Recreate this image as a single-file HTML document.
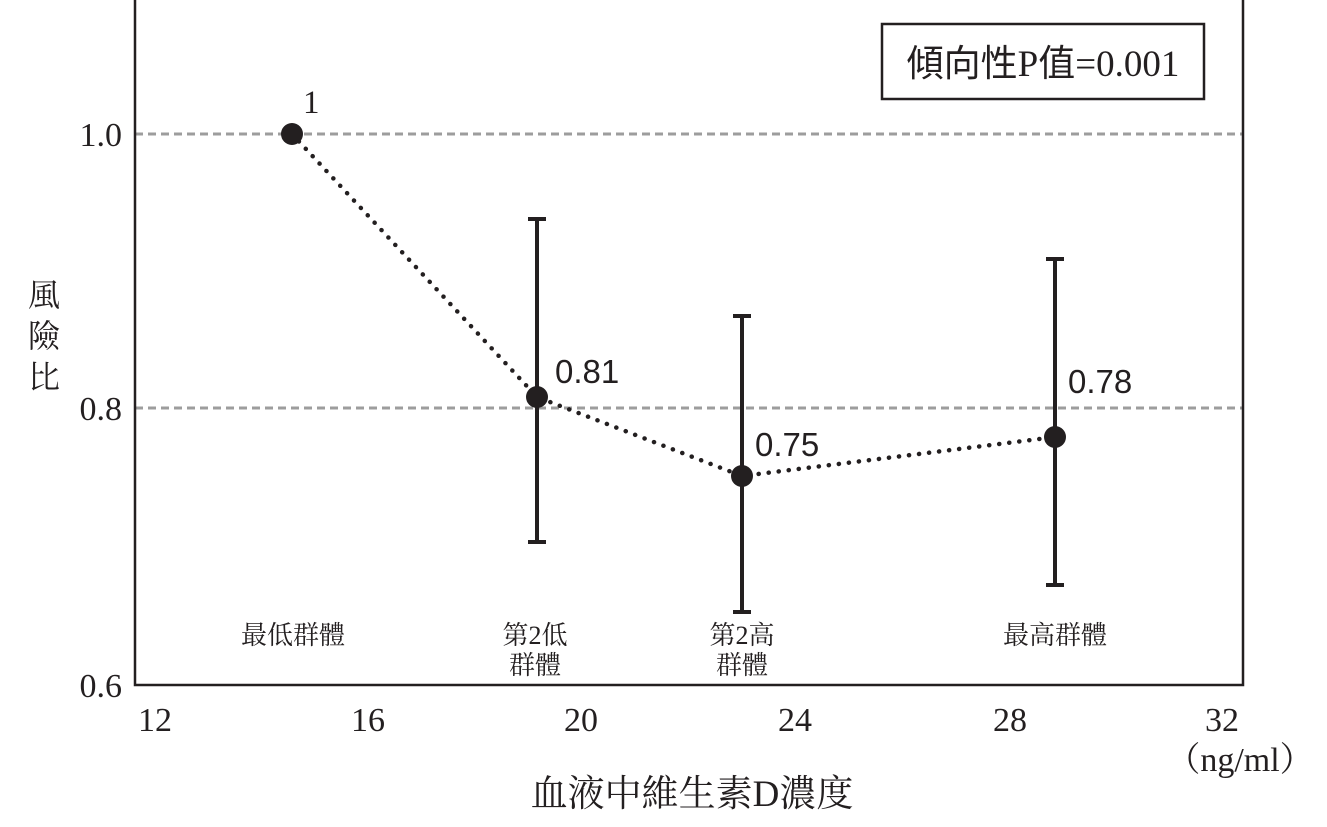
<!DOCTYPE html>
<html><head><meta charset="utf-8"><style>
html,body{margin:0;padding:0;background:#fff;}
svg{display:block;}
text{font-family:"Liberation Serif","Noto Serif CJK SC",serif;fill:#231f20;}
.cjk{font-family:"Liberation Sans","Noto Sans CJK TC",sans-serif;}
</style></head><body>
<svg width="1327" height="827" viewBox="0 0 1327 827" xmlns="http://www.w3.org/2000/svg">
<rect width="1327" height="827" fill="#fff"/>
<line x1="135" y1="134" x2="1243" y2="134" stroke="#9d9d9d" stroke-width="3" stroke-dasharray="8,5"/>
<line x1="135" y1="408" x2="1243" y2="408" stroke="#9d9d9d" stroke-width="3" stroke-dasharray="8,5"/>
<polyline points="135,0 135,685 1243,685 1243,0" fill="none" stroke="#231f20" stroke-width="2.5"/>
<g font-size="34" text-anchor="end">
<text x="122" y="146">1.0</text>
<text x="122" y="420">0.8</text>
<text x="122" y="697">0.6</text>
</g>
<g font-size="34" text-anchor="middle">
<text x="155" y="731">12</text>
<text x="368" y="731">16</text>
<text x="581" y="731">20</text>
<text x="795" y="731">24</text>
<text x="1010" y="731">28</text>
<text x="1222" y="731">32</text>
<text x="1240" y="771">（ng/ml）</text>
</g>
<text x="692" y="806" font-size="37" text-anchor="middle">血液中維生素D濃度</text>
<g class="cjk" font-size="32" text-anchor="middle">
<text x="44" y="306">風</text><text x="44" y="347">險</text><text x="44" y="388">比</text>
</g>
<g stroke="#231f20" stroke-width="4">
<line x1="537" y1="219" x2="537" y2="542"/><line x1="528" y1="219" x2="546" y2="219"/><line x1="528" y1="542" x2="546" y2="542"/>
<line x1="742" y1="316" x2="742" y2="612"/><line x1="733" y1="316" x2="751" y2="316"/><line x1="733" y1="612" x2="751" y2="612"/>
<line x1="1055" y1="259" x2="1055" y2="585"/><line x1="1046" y1="259" x2="1064" y2="259"/><line x1="1046" y1="585" x2="1064" y2="585"/>
</g>
<polyline points="292,134 537,397 742,476 1055,437" fill="none" stroke="#231f20" stroke-width="4.5" stroke-dasharray="0.1,10" stroke-linecap="round"/>
<g fill="#231f20">
<circle cx="292" cy="134" r="11"/><circle cx="537" cy="397" r="11"/><circle cx="742" cy="476" r="11"/><circle cx="1055" cy="437" r="11"/>
</g>
<g font-size="33">
<text x="303" y="113" style="font-family:'Liberation Serif',serif">1</text>
<text x="555" y="383" style="font-family:'Liberation Sans',sans-serif">0.81</text>
<text x="755" y="456" style="font-family:'Liberation Sans',sans-serif">0.75</text>
<text x="1068" y="393" style="font-family:'Liberation Sans',sans-serif">0.78</text>
</g>
<g class="cjk" font-size="26" text-anchor="middle">
<text x="293" y="644">最低群體</text>
<text x="535" y="644">第2低</text><text x="535" y="674">群體</text>
<text x="742" y="644">第2高</text><text x="742" y="674">群體</text>
<text x="1055" y="644">最高群體</text>
</g>
<rect x="882" y="24" width="322" height="75" fill="#fff" stroke="#231f20" stroke-width="2.5"/>
<text x="1043" y="76" font-size="37" text-anchor="middle"><tspan style="font-family:'Noto Sans CJK TC',sans-serif">傾向性</tspan>P<tspan style="font-family:'Noto Sans CJK TC',sans-serif">值</tspan>=0.001</text>
</svg>
</body></html>
